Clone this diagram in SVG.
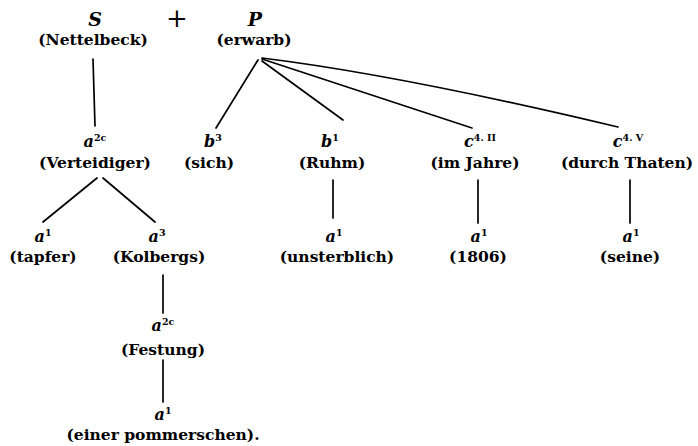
<svg xmlns="http://www.w3.org/2000/svg" width="698" height="446" viewBox="0 0 698 446">
<style>
.w{font-family:"DejaVu Serif","Liberation Serif",serif;font-weight:bold;font-size:15.5px;fill:#000;text-anchor:middle}
.l{font-family:"DejaVu Serif","Liberation Serif",serif;font-weight:bold;font-style:italic;font-size:16px;fill:#000;text-anchor:middle}
.big{font-size:19px}
.sup{font-size:9.5px;font-style:normal}
.e{stroke:#000;stroke-width:1.7;fill:none;stroke-linecap:round}
</style>
<rect width="698" height="446" fill="#fff"/>
<g id="connectors">
<line class="e" x1="93" y1="59" x2="95" y2="126"/>
<line class="e" x1="97" y1="178" x2="43" y2="222"/>
<line class="e" x1="103" y1="178" x2="155" y2="222"/>
<line class="e" x1="163" y1="275" x2="163" y2="313"/>
<line class="e" x1="163" y1="360" x2="163" y2="402"/>
<line class="e" x1="258" y1="60" x2="216" y2="128"/>
<line class="e" x1="262" y1="61" x2="343" y2="120"/>
<line class="e" x1="262" y1="59" x2="472" y2="128"/>
<path class="e" d="M262 58 Q 400 75 618 127"/>
<line class="e" x1="333" y1="180" x2="333" y2="218"/>
<line class="e" x1="478" y1="180" x2="478" y2="223"/>
<line class="e" x1="630" y1="180" x2="630" y2="223"/>
</g>
<g id="node-S">
<text class="l big" x="95" y="26">S</text>
<text class="w" x="93" y="45">(Nettelbeck)</text>
</g>
<g id="plus">
<text class="w" x="177" y="27" style="font-size:26px;font-weight:normal">+</text>
</g>
<g id="node-P">
<text class="l big" x="255" y="26">P</text>
<text class="w" x="254" y="45">(erwarb)</text>
</g>
<g id="node-verteidiger">
<text class="l" x="95" y="147">a<tspan class="sup" dy="-6">2c</tspan></text>
<text class="w" x="95" y="168">(Verteidiger)</text>
</g>
<g id="node-tapfer">
<text class="l" x="43" y="242">a<tspan class="sup" dy="-6">1</tspan></text>
<text class="w" x="43" y="262">(tapfer)</text>
</g>
<g id="node-kolbergs">
<text class="l" x="157" y="242">a<tspan class="sup" dy="-6">3</tspan></text>
<text class="w" x="159" y="262">(Kolbergs)</text>
</g>
<g id="node-festung">
<text class="l" x="163" y="331">a<tspan class="sup" dy="-6">2c</tspan></text>
<text class="w" x="163" y="355">(Festung)</text>
</g>
<g id="node-pommerschen">
<text class="l" x="163" y="420">a<tspan class="sup" dy="-6">1</tspan></text>
<text class="w" x="163" y="440">(einer pommerschen).</text>
</g>
<g id="node-sich">
<text class="l" x="213" y="147">b<tspan class="sup" dy="-6">3</tspan></text>
<text class="w" x="209" y="168">(sich)</text>
</g>
<g id="node-ruhm">
<text class="l" x="330" y="147">b<tspan class="sup" dy="-6">1</tspan></text>
<text class="w" x="332" y="168">(Ruhm)</text>
</g>
<g id="node-unsterblich">
<text class="l" x="334" y="242">a<tspan class="sup" dy="-6">1</tspan></text>
<text class="w" x="337" y="262">(unsterblich)</text>
</g>
<g id="node-jahre">
<text class="l" x="480" y="147">c<tspan class="sup" dy="-6">4. II</tspan></text>
<text class="w" x="475" y="168">(im Jahre)</text>
</g>
<g id="node-1806">
<text class="l" x="479" y="242">a<tspan class="sup" dy="-6">1</tspan></text>
<text class="w" x="478" y="262">(1806)</text>
</g>
<g id="node-thaten">
<text class="l" x="628" y="147">c<tspan class="sup" dy="-6">4. V</tspan></text>
<text class="w" x="627" y="168">(durch Thaten)</text>
</g>
<g id="node-seine">
<text class="l" x="631" y="242">a<tspan class="sup" dy="-6">1</tspan></text>
<text class="w" x="630" y="262">(seine)</text>
</g>
</svg>
